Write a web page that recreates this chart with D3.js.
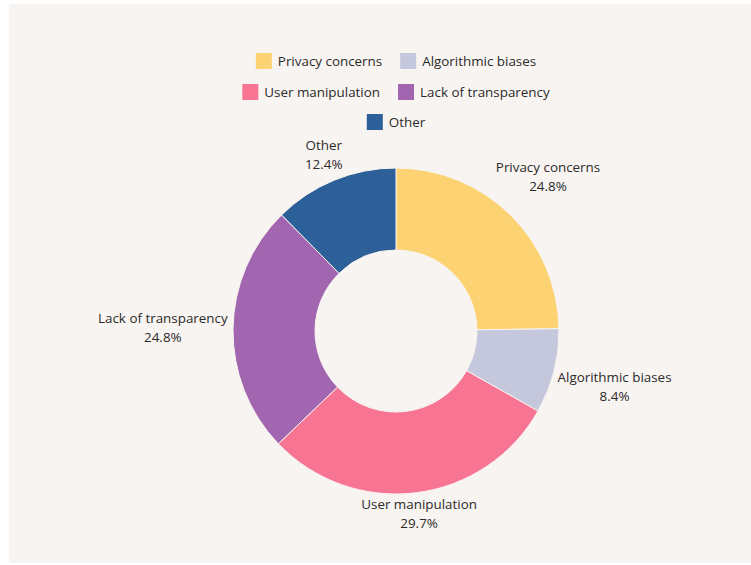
<!DOCTYPE html>
<html>
<head>
<meta charset="utf-8">
<script src="https://cdn.jsdelivr.net/npm/d3@7"></script>
<style>
  html, body { margin: 0; padding: 0; background: #ffffff; }
  svg { display: block; }
  text { font-family: "Open Sans", "Noto Sans", sans-serif; fill: #2b2b2b; }
</style>
</head>
<body>
<svg id="chart" width="751" height="565"></svg>
<script>
// Concerns about AI, share of responses (%)
const categories = ["Privacy concerns", "Algorithmic biases", "User manipulation", "Lack of transparency", "Other"];
const values = [24.8, 8.4, 29.7, 24.8, 12.4];
const colors = ["#fdd272", "#c5c7dc", "#f77593", "#a266b0", "#2d5f98"];
const legendRows = [[0, 1], [2, 3], [4]];

const W = 751, H = 565;
const svg = d3.select("#chart");

// card background
svg.append("rect")
  .attr("x", 9).attr("y", 4)
  .attr("width", W - 9).attr("height", H - 6)
  .attr("fill", "#f8f4f1");

const cx = 396, cy = 331;
const outerR = 163, innerR = 81;

const data = categories.map((c, i) => ({ name: c, value: values[i], color: colors[i] }));

const pie = d3.pie().value(d => d.value).sort(null);
const arc = d3.arc().innerRadius(innerR).outerRadius(outerR);
const arcs = pie(data);

const g = svg.append("g").attr("transform", `translate(${cx},${cy})`);

g.selectAll("path.slice")
  .data(arcs)
  .enter().append("path")
  .attr("class", "slice")
  .attr("d", arc)
  .attr("fill", d => d.data.color)
  .attr("stroke", "#f8f4f1")
  .attr("stroke-width", 1);

// outside labels: name and percentage, pushed out so the text block clears the ring
const labelR = outerR + 5;
const fontSize = 13.4, lineH = 19;
arcs.forEach(a => {
  const mid = (a.startAngle + a.endAngle) / 2;
  const ux = Math.sin(mid), uy = -Math.cos(mid);
  const t = g.append("text")
    .attr("text-anchor", "middle")
    .style("font-size", fontSize + "px");
  t.append("tspan").attr("x", 0).attr("dy", 0).text(a.data.name);
  t.append("tspan").attr("x", 0).attr("dy", lineH).text(a.data.value.toFixed(1) + "%");
  const bb = t.node().getBBox();
  const hw = bb.width / 2, hh = bb.height / 2;
  const vWeight = uy < 0 ? 0.9 : 0.5;
  const dist = labelR + hw * Math.abs(ux) + vWeight * hh * Math.abs(uy);
  const px = dist * ux, py = dist * uy;
  // center the block on (px, py)
  const shiftY = py - (bb.y + hh);
  t.attr("transform", `translate(${px},${shiftY})`);
});

// legend, rows centered on the chart
const sw = 16, gapText = 6, gapItem = 18;
const rowY = [61, 92, 122];
legendRows.forEach((row, r) => {
  const rg = svg.append("g");
  let x = 0;
  row.forEach(i => {
    rg.append("rect")
      .attr("x", x).attr("y", rowY[r] - sw / 2)
      .attr("width", sw).attr("height", sw)
      .attr("fill", colors[i]);
    const t = rg.append("text")
      .attr("x", x + sw + gapText)
      .attr("y", rowY[r])
      .attr("dominant-baseline", "central")
      .style("font-size", fontSize + "px")
      .text(categories[i]);
    x += sw + gapText + t.node().getComputedTextLength() + gapItem;
  });
  const total = x - gapItem;
  rg.attr("transform", `translate(${cx - total / 2},0)`);
});
</script>
</body>
</html>
